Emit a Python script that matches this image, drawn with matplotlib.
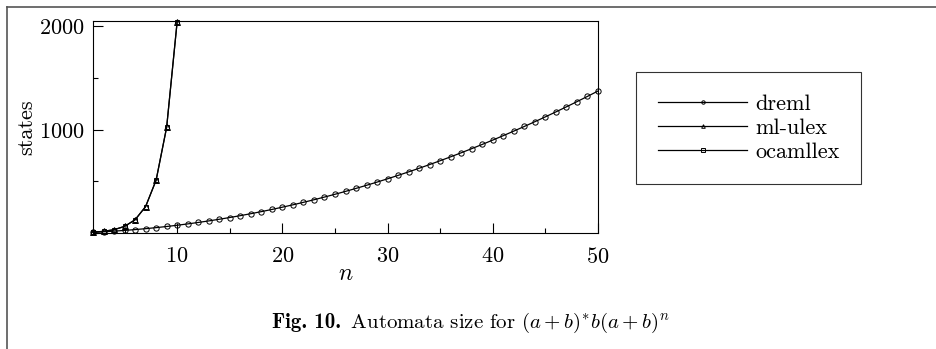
import matplotlib
matplotlib.use("Agg")
import matplotlib.pyplot as plt
from matplotlib.lines import Line2D
from matplotlib.ticker import MultipleLocator

plt.rcParams['font.family'] = 'cmr10'
plt.rcParams['mathtext.fontset'] = 'cm'
plt.rcParams['axes.formatter.use_mathtext'] = True

# Du lieu doc tu hinh
n_dreml = list(range(2, 51))
dreml = [7, 12, 18, 25, 33, 42, 52, 63, 75, 88, 102, 117, 133, 150, 168, 187, 207,
         228, 250, 273, 297, 322, 348, 375, 403, 432, 462, 493, 525, 558, 592, 627,
         663, 700, 738, 777, 817, 858, 900, 943, 987, 1032, 1078, 1125, 1173, 1222,
         1272, 1323, 1375]
n_exp = list(range(2, 11))
ml_ulex = [8, 16, 32, 64, 128, 256, 512, 1024, 2048]
ocamllex = [8, 16, 32, 64, 128, 256, 512, 1024, 2048]

fig = plt.figure(figsize=(9.36, 3.49), dpi=100)
ax = fig.add_axes([93 / 936, 1 - 233 / 349, (598 - 93) / 936, (233 - 20.5) / 349])

ax.plot(n_dreml, dreml, 'k-', lw=0.9, marker='o', ms=3.8, mfc='none', mew=0.7, label='dreml', clip_on=False)
ax.plot(n_exp, ml_ulex, 'k-', lw=0.9, marker='^', ms=4.0, mfc='none', mew=0.7, label='ml-ulex', clip_on=False)
ax.plot(n_exp, ocamllex, 'k-', lw=0.9, marker='s', ms=3.4, mfc='none', mew=0.7, label='ocamllex', clip_on=False)

ax.set_xlim(2, 50)
ax.set_ylim(0, 2058)
ax.xaxis.set_minor_locator(MultipleLocator(5))
ax.yaxis.set_minor_locator(MultipleLocator(500))
ax.set_xticks([10, 20, 30, 40, 50])
ax.set_yticks([1000, 2000])
ax.tick_params(which='major', direction='in', length=7, width=0.8, labelsize=16,
               top=False, right=False)
ax.tick_params(axis='x', which='major', pad=10)
ax.tick_params(axis='y', which='major', pad=6)
ax.tick_params(which='minor', direction='in', length=3.5, width=0.8, top=False, right=False)
for s in ax.spines.values():
    s.set_linewidth(0.8)

ax.set_xlabel('$n$', fontsize=17, labelpad=-3)
ax.set_ylabel('states', fontsize=16, labelpad=2)

leg = fig.legend(loc='upper left', bbox_to_anchor=(636 / 936, 1 - 72 / 349), fontsize=16,
                 frameon=True, fancybox=False, edgecolor='black', handlelength=4.0,
                 markerscale=0.65, borderpad=1.0, labelspacing=0.2, handletextpad=0.35,
                 borderaxespad=0)
leg.get_frame().set_linewidth(0.8)

# chu thich hinh: phan dam + phan thuong, can giua
fig.canvas.draw()
r = fig.canvas.get_renderer()
y_cap = 1 - 323 / 349
t1 = fig.text(0, y_cap, 'Fig. 10.', family='cmb10', fontsize=15, ha='left', va='center')
t2 = fig.text(0, y_cap, r' Automata size for $(a+b)^{*}b(a+b)^n$', fontsize=15, ha='left', va='center')
w1 = t1.get_window_extent(r).width
w2 = t2.get_window_extent(r).width
x0 = (936 - w1 - w2) / 2 + 2
t1.set_x(x0 / 936)
t2.set_x((x0 + w1 + 3) / 936)

# khung ngoai (chi canh tren va canh trai)
fig.add_artist(Line2D([6.5 / 936, 1], [1 - 6.5 / 349, 1 - 6.5 / 349], color='#555555', lw=1.2))
fig.add_artist(Line2D([6.5 / 936, 6.5 / 936], [0, 1 - 6.5 / 349], color='#555555', lw=1.2))

fig.savefig('out.png', dpi=100)
